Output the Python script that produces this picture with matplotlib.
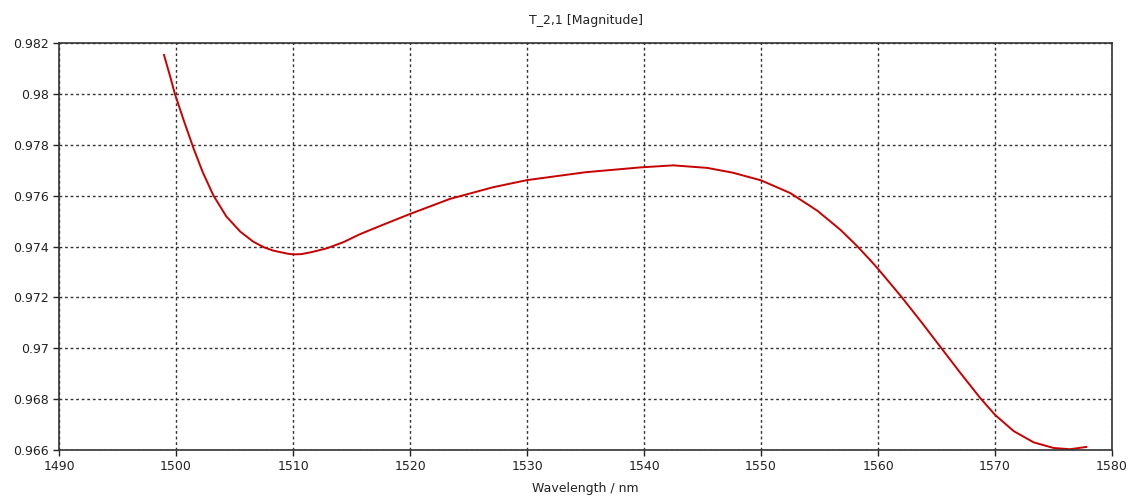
import matplotlib
matplotlib.use("Agg")
import matplotlib.pyplot as plt

# values
wavelength = [1498.97, 1499.5, 1499.9, 1500.7, 1501.5, 1502.3, 1503.2, 1504.3,
              1505.5, 1506.6, 1507.5, 1508.3, 1509.5, 1510.0, 1510.7, 1511.5,
              1512.9, 1514.3, 1515.7, 1517.5, 1520.0, 1523.4, 1527.1, 1530.0,
              1535.0, 1539.7, 1542.5, 1545.4, 1547.6, 1550.0, 1552.5, 1554.8,
              1556.8, 1558.2, 1559.3, 1560.0, 1562.0, 1563.7, 1565.3, 1567.0,
              1568.7, 1570.0, 1571.6, 1573.3, 1575.0, 1576.4, 1577.8]
magnitude = [0.98153, 0.98068, 0.98000, 0.97890, 0.97785, 0.97690, 0.97600, 0.97518,
             0.97458, 0.97419, 0.97397, 0.97384, 0.97372, 0.97369, 0.97370, 0.97377,
             0.97393, 0.97417, 0.97448, 0.97482, 0.97528, 0.97587, 0.97633, 0.97661,
             0.97692, 0.97711, 0.97719, 0.97709, 0.97690, 0.97660, 0.97610, 0.97541,
             0.97465, 0.97402, 0.97348, 0.97312, 0.97202, 0.97103, 0.97007, 0.96905,
             0.96806, 0.96738, 0.96674, 0.96630, 0.96608, 0.96603, 0.96612]

x_ticks = [1490, 1500, 1510, 1520, 1530, 1540, 1550, 1560, 1570, 1580]
y_ticks = [0.966, 0.968, 0.970, 0.972, 0.974, 0.976, 0.978, 0.980, 0.982]
y_labels = ["0.966", "0.968", "0.97", "0.972", "0.974", "0.976", "0.978", "0.98", "0.982"]


def main():
    fig = plt.figure(figsize=(11.29, 5.0), dpi=100)
    ax = fig.add_axes([0.0523, 0.10, 0.9327, 0.814])

    ax.plot(wavelength, magnitude, color="#c80000", linewidth=1.4,
            solid_joinstyle="round")

    ax.set_xlim(1490, 1580)
    ax.set_ylim(0.966, 0.982)
    ax.set_xticks(x_ticks)
    ax.set_yticks(y_ticks)
    ax.set_yticklabels(y_labels)
    ax.tick_params(direction="out", length=4, width=1, labelsize=9, colors="#222222")

    ax.grid(True, color="#333333", linestyle=(0, (2, 2)), linewidth=1)
    for s in ax.spines.values():
        s.set_color("#333333")
        s.set_linewidth(1.2)

    ax.set_title("T_2,1 [Magnitude]", fontsize=9, pad=14, color="#222222")
    ax.set_xlabel("Wavelength / nm", fontsize=9, labelpad=6, color="#222222")

    fig.savefig("out.png", dpi=100, facecolor="white")


if __name__ == "__main__":
    main()
